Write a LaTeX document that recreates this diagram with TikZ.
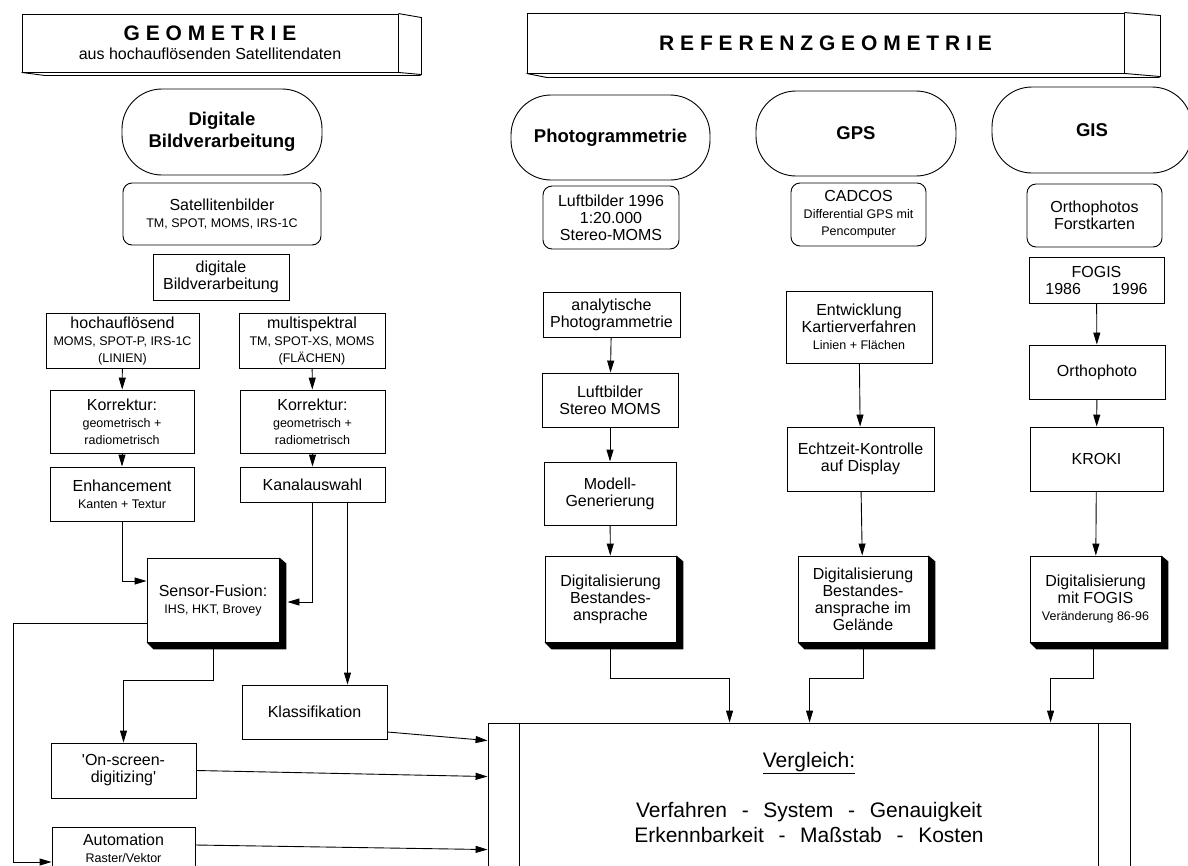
\documentclass[tikz,border=0pt]{standalone}
\usepackage{fontspec}
\setmainfont{Liberation Sans}
\usetikzlibrary{arrows.meta}
\newcommand\fgross{\fontsize{16}{17}\selectfont}
\newcommand\fklein{\fontsize{12.5}{15}\selectfont}
\newcommand\ftitel{\fontsize{21}{24}\selectfont\bfseries}
\newcommand\foval{\fontsize{18.5}{22}\selectfont\bfseries}
\newcommand\fverg{\fontsize{21}{25}\selectfont}
\newcommand\strich{\hspace{0.7em}-\hspace{0.7em}}
\begin{document}
\begin{tikzpicture}[x=1pt,y=-1pt,line width=0.9pt,
  kasten/.style={draw,align=center,inner sep=0pt,font=\fgross},
  rund/.style={kasten,rounded corners=9pt},
  oval/.style={draw,rounded corners=40pt,align=center,inner sep=0pt,font=\foval},
  gr/.style 2 args={minimum width=#1pt,minimum height=#2pt},
  pfeil/.style={-{Triangle[length=12pt,width=7pt]}}]
\useasboundingbox (0,0) rectangle (1188,865);
\clip (0,0) rectangle (1188,865);
\node[kasten,gr={376}{58}] (geo) at (210,43) {\ftitel G E O M E T R I E\\[2pt]aus hochauflösenden Satellitendaten};
\draw (geo.north east) -- ++(23,4) -- ++(0,57) -- (geo.south east);
\draw (geo.south west) -- ++(23,3) -- ++(376,0);
\node[kasten,gr={597}{60}] (ref) at (825.5,43) {\ftitel R E F E R E N Z G E O M E T R I E};
\draw (ref.north east) -- ++(36,3) -- ++(0,61) -- (ref.south east);
\draw (ref.south west) -- ++(20,4) -- ++(613,0);
\node[oval,gr={200}{86}] (dbv) at (222,132) {Digitale\\Bildverarbeitung};
\node[oval,gr={199}{85}] (photo) at (610.5,137.5) {Photogrammetrie};
\node[oval,gr={200}{85}] (gps) at (856,133.5) {GPS};
\node[oval,gr={200}{86}] (gis) at (1092,130) {GIS};
\node[rund,gr={198}{62}] (satb) at (222,214) {Satellitenbilder\\\fklein TM, SPOT, MOMS, IRS-1C};
\node[rund,gr={136}{63}] (luftb) at (611,217.5) {Luftbilder 1996\\1:20.000\\Stereo-MOMS};
\node[rund,gr={135}{63}] (cadcos) at (858.5,214.5) {CADCOS\\\fklein Differential GPS mit\\\fklein Pencomputer};
\node[rund,gr={135}{63}] (orthos) at (1094.5,215.5) {Orthophotos\\Forstkarten};
\node[kasten,gr={136}{46}] (dbvk) at (221,277) {digitale\\Bildverarbeitung};
\node[kasten,gr={153}{55}] (hoch) at (122.5,340.5) {hochauflösend\\\fklein MOMS, SPOT-P, IRS-1C\\\fklein (LINIEN)};
\node[kasten,gr={146}{55}] (multi) at (312,340.5) {multispektral\\\fklein TM, SPOT-XS, MOMS\\\fklein (FLÄCHEN)};
\node[kasten,gr={144}{63}] (korr1) at (122,421.5) {Korrektur:\\\fklein geometrisch +\\\fklein radiometrisch};
\node[kasten,gr={145}{63}] (korr2) at (312.5,421.5) {Korrektur:\\\fklein geometrisch +\\\fklein radiometrisch};
\node[kasten,gr={144}{54}] (enh) at (122,494) {Enhancement\\\fklein Kanten + Textur};
\node[kasten,gr={145}{35}] (kanal) at (312.5,484.5) {Kanalauswahl};
\node[kasten,gr={132}{84}] (fusion) at (213,600) {Sensor-Fusion:\\\fklein IHS, HKT, Brovey};
\node[kasten,gr={145}{54}] (klass) at (314.5,712) {Klassifikation};
\node[kasten,gr={145}{55}] (onscr) at (123.5,770.5) {\textquotesingle On-screen-\\digitizing\textquotesingle};
\node[kasten,gr={143}{42}] (auto) at (123.5,848) {Automation\\\fklein Raster/Vektor};
\node[kasten,gr={137}{45}] (analyt) at (611.5,314.5) {analytische\\Photogrammetrie};
\node[kasten,gr={136}{54}] (luftst) at (610,400) {Luftbilder\\Stereo MOMS};
\node[kasten,gr={132}{63}] (modell) at (610,493.5) {Modell-\\Generierung};
\node[kasten,gr={131}{86}] (digphoto) at (610.5,599) {Digitalisierung\\Bestandes-\\ansprache};
\node[kasten,gr={146}{72}] (entw) at (859,327) {Entwicklung\\Kartierverfahren\\\fklein Linien + Flächen};
\node[kasten,gr={147}{64}] (echt) at (860.5,459) {Echtzeit-Kontrolle\\auf Display};
\node[kasten,gr={130}{86}] (diggps) at (863,599) {Digitalisierung\\Bestandes-\\ansprache im\\Gelände};
\node[kasten,gr={135}{46}] (fogis) at (1096.5,280) {FOGIS\\1986\hspace{31pt}1996};
\node[kasten,gr={136}{54}] (ortho) at (1097,372) {Orthophoto};
\node[kasten,gr={133}{64}] (kroki) at (1096.5,459) {KROKI};
\node[kasten,gr={131}{86}] (diggis) at (1095.5,599) {Digitalisierung\\mit FOGIS\\\fklein Veränderung 86-96};
\node[kasten,gr={642}{148},font=\fverg] (vergl) at (809,797) {\underline{Vergleich:}\\[25pt]Verfahren\strich System\strich Genauigkeit\\Erkennbarkeit\strich Maßstab\strich Kosten};
\draw ([xshift=32pt]vergl.north west) -- ([xshift=32pt]vergl.south west);
\draw ([xshift=-32pt]vergl.north east) -- ([xshift=-32pt]vergl.south east);
\foreach \n in {fusion,digphoto,diggps,diggis}
  \fill (\n.north east) -- ([shift={(7,6)}]\n.north east) -- ([shift={(7,7)}]\n.south east)
    -- ([shift={(7,7)}]\n.south west) -- (\n.south west) -- (\n.south east) -- cycle;
\draw[pfeil] (hoch) -- (korr1);
\draw[pfeil] (korr1) -- (enh);
\draw[pfeil] (multi) -- (korr2);
\draw[pfeil] (korr2) -- (kanal);
\draw[pfeil] (enh.south) |- ([yshift=19pt]fusion.west);
\draw[pfeil] (kanal.south) |- ([xshift=8pt,yshift=-2pt]fusion.east);
\draw[pfeil] ([xshift=35pt]kanal.south) -- ([xshift=35pt]kanal.south |- klass.north);
\draw[pfeil] ([yshift=-7pt]fusion.south) -- ++(0,31) -| (onscr.north);
\coordinate (ecke) at (13,623);
\draw[pfeil] ([yshift=-23pt]fusion.west) -- (ecke) |- ([yshift=-14pt]auto.west);
\draw[pfeil] ([yshift=-20pt]klass.east) -- ([yshift=-18pt]vergl.north west);
\draw[pfeil] (onscr.east) -- ([yshift=-54pt]vergl.north west);
\draw[pfeil] ([yshift=3pt]auto.east) -- ([yshift=-127pt]vergl.north west);
\draw[pfeil] (analyt) -- (luftst);
\draw[pfeil] (luftst) -- (modell);
\draw[pfeil] (modell) -- (digphoto);
\draw[pfeil] (entw) -- (echt);
\draw[pfeil] (echt) -- (diggps);
\draw[pfeil] (fogis) -- (ortho);
\draw[pfeil] (ortho) -- (kroki);
\draw[pfeil] (kroki) -- (diggis);
\draw[pfeil] ([yshift=-7pt]digphoto.south) -- ++(0,29) -| ([xshift=242pt]vergl.north west);
\draw[pfeil] ([yshift=-7pt]diggps.south) -- ++(0,29) -| ([xshift=322pt]vergl.north west);
\draw[pfeil] ([xshift=-2pt,yshift=-7pt]diggis.south) -- ++(0,29) -| ([xshift=563pt]vergl.north west);
\end{tikzpicture}
\end{document}
